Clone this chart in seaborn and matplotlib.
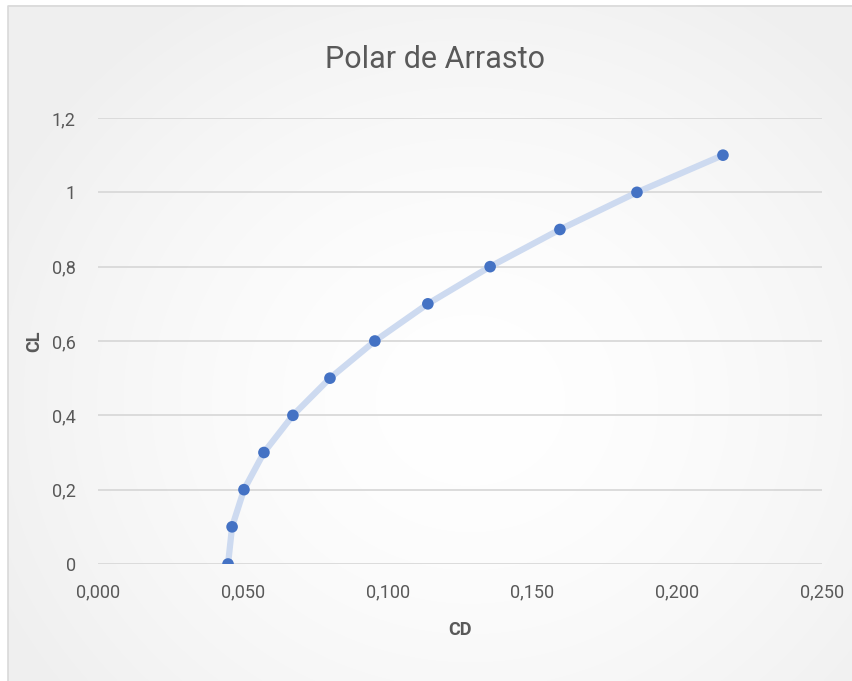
import numpy as np
import pandas as pd
import matplotlib
matplotlib.use('Agg')
import matplotlib.pyplot as plt
import seaborn as sns
from matplotlib.ticker import FuncFormatter, MultipleLocator

##########
# Data
##########
CD = [0.0449, 0.0463, 0.0504, 0.0573, 0.0673, 0.0801,
      0.0956, 0.1139, 0.1354, 0.1595, 0.1861, 0.2158]
CL = [0.0, 0.1, 0.2, 0.3, 0.4, 0.5, 0.6, 0.7, 0.8, 0.9, 1.0, 1.1]
TITLE = 'Polar de Arrasto'

data = pd.DataFrame({'CD': CD, 'CL': CL})

sns.set_style('white')
plt.rcParams['font.family'] = ['Roboto', 'DejaVu Sans']
TEXT = '#595959'

fig = plt.figure(figsize=(8.53, 6.81), dpi=100)

# radial gradient background + gray frame
bg = fig.add_axes([0, 0, 1, 1], zorder=0)
W, H = 853, 681
yy, xx = np.mgrid[0:H, 0:W]
r = np.sqrt(((xx - 470) / 520.0) ** 2 + ((yy - 400) / 470.0) ** 2)
shade = 1.0 - 0.06 * np.clip(r, 0, 1) ** 1.6
img = np.dstack([shade, shade, shade])
img[:5, :, :] = 1.0
img[:, :8, :] = 1.0
bg.imshow(img, extent=[0, W, H, 0], aspect='auto', interpolation='bilinear')
bg.plot([8.5, 8.5, W], [H, 5.5, 5.5], color='#d9d9d9', lw=1.2)
bg.set_xlim(0, W)
bg.set_ylim(H, 0)
bg.axis('off')

ax = fig.add_axes([98 / W, 1 - 564 / H, (822 - 98) / W, (564 - 118) / H], zorder=1)
ax.patch.set_alpha(0)

sns.lineplot(data=data, x='CD', y='CL', sort=False, ax=ax, color='#cddaf0',
             lw=4.5, solid_joinstyle='round', solid_capstyle='round', zorder=2)
sns.scatterplot(data=data, x='CD', y='CL', ax=ax, color='#4472c4', s=70,
                edgecolor='none', zorder=3)

ax.set_xlim(0, 0.25)
ax.set_ylim(0, 1.2)
ax.xaxis.set_major_locator(MultipleLocator(0.05))
ax.yaxis.set_major_locator(MultipleLocator(0.2))
ax.xaxis.set_major_formatter(FuncFormatter(lambda v, p: f'{v:.3f}'.replace('.', ',')))


def yfmt(v, p):
    s = f'{v:.1f}'.rstrip('0').rstrip('.')
    return s.replace('.', ',')


ax.yaxis.set_major_formatter(FuncFormatter(yfmt))
ax.grid(axis='y', color='#d9d9d9', lw=1.3)
ax.grid(axis='x', visible=False)
for sp in ax.spines.values():
    sp.set_visible(False)
ax.tick_params(axis='both', length=0, labelsize=13, colors=TEXT)
ax.tick_params(axis='x', pad=14)
ax.tick_params(axis='y', pad=16)

ax.set_xlabel('CD', fontsize=13, fontweight='bold', color=TEXT, labelpad=14)
ax.set_ylabel('CL', fontsize=13, fontweight='bold', color=TEXT, labelpad=6)

fig.text(435 / W, 1 - 60 / H, TITLE, ha='center', va='center', fontsize=22,
         color=TEXT)

fig.savefig('out.png', dpi=100)
